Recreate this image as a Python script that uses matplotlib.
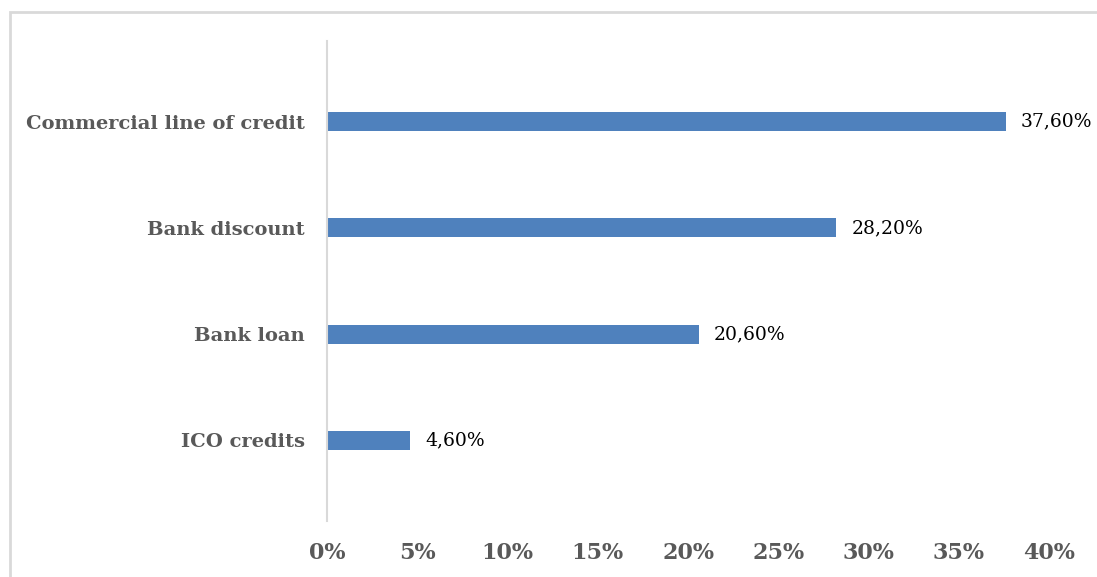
import matplotlib.pyplot as plt
from matplotlib.patches import Rectangle

categories = ["ICO credits", "Bank loan", "Bank discount", "Commercial line of credit"]
values = [4.6, 20.6, 28.2, 37.6]
value_labels = ["4,60%", "20,60%", "28,20%", "37,60%"]
xticks = [0, 5, 10, 15, 20, 25, 30, 35, 40]

bar_color = "#4f81bd"
grey = "#595959"
serif = ["DejaVu Serif"]

fig = plt.figure(figsize=(10.97, 5.77), dpi=100)
ax = fig.add_axes([327 / 1097, 1 - 521 / 577, (1049 - 327) / 1097, 480 / 577])

ypos = list(range(len(categories)))
ax.barh(ypos, values, height=0.18, color=bar_color)
for y, v, lab in zip(ypos, values, value_labels):
    ax.text(v + 0.85, y, lab, va="center", ha="left", fontsize=13.5,
            family=serif, color="black")

ax.set_xlim(0, 40)
ax.set_ylim(-0.76, 3.76)
ax.set_yticks(ypos)
ax.set_yticklabels(categories, fontsize=14, fontweight="bold",
                   family=serif, color=grey)
ax.set_xticks(xticks)
ax.set_xticklabels([f"{t}%" for t in xticks], fontsize=16, fontweight="bold",
                   family=serif, color=grey)
ax.tick_params(axis="both", length=0)
ax.tick_params(axis="y", pad=16)
ax.tick_params(axis="x", pad=15)

for side in ["top", "right", "bottom"]:
    ax.spines[side].set_visible(False)
ax.spines["left"].set_color("#d9d9d9")
ax.spines["left"].set_linewidth(1.5)

# light frame around the chart area
fig.patches.append(Rectangle((10 / 1097, -0.02), 1.02, 1 - 12 / 577 + 0.02,
                             transform=fig.transFigure, fill=False,
                             edgecolor="#d9d9d9", linewidth=2, clip_on=False))

fig.savefig("out.png", dpi=100)
